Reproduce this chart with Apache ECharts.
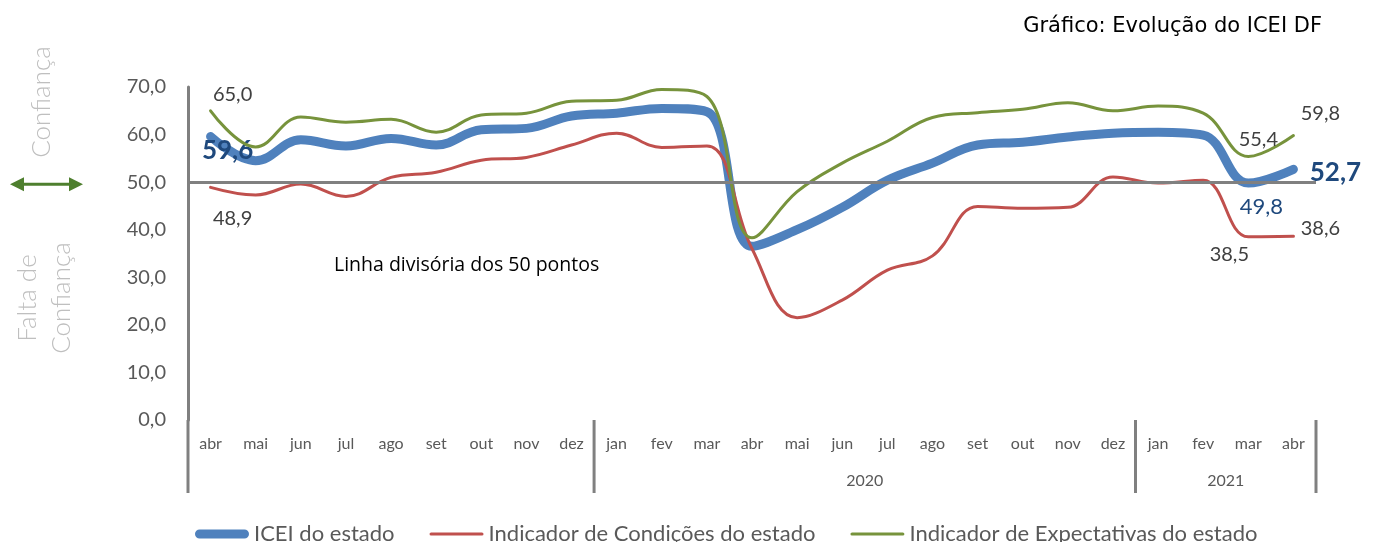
<!DOCTYPE html>
<html><head><meta charset="utf-8">
<script src="https://cdn.jsdelivr.net/npm/echarts@6/dist/echarts.min.js"></script>
<style>html,body{margin:0;padding:0;background:#fff}#c{width:1375px;height:542px}</style>
</head><body><div id="c"></div>
<script>
// ---- data ----
const months = ['abr','mai','jun','jul','ago','set','out','nov','dez',
                'jan','fev','mar','abr','mai','jun','jul','ago','set','out','nov','dez',
                'jan','fev','mar','abr'];
const yearLabels = ['', '2020', '2021'];
const yearStarts = [0, 9, 21];
const icei =         [59.6, 54.5, 58.9, 57.6, 59.2, 57.8, 61.0, 61.3, 63.9, 64.5, 65.5, 64.8, 36.5, 40.0, 44.7, 50.4, 54.0, 57.8, 58.4, 59.5, 60.3, 60.5, 59.9, 49.8, 52.7];
const condicoes =    [48.9, 47.3, 49.6, 47.0, 51.0, 52.1, 54.6, 55.2, 57.8, 60.3, 57.3, 57.6, 36.0, 21.5, 25.2, 31.5, 34.5, 44.9, 44.5, 44.7, 51.1, 49.8, 50.4, 38.5, 38.6];
const expectativas = [65.0, 57.4, 63.7, 62.6, 63.2, 60.5, 64.1, 64.5, 67.0, 67.2, 69.5, 68.0, 38.3, 48.0, 54.0, 58.6, 63.6, 64.6, 65.3, 66.7, 65.0, 66.0, 64.5, 55.4, 59.8];
const seriesNames = ['ICEI do estado', 'Indicador de Condições do estado', 'Indicador de Expectativas do estado'];
const dividerValue = 50;
const yMin = 0, yMax = 70, yInterval = 10;

// ---- styles ----
const FONT = 'Lato, "Open Sans", sans-serif';
const FONT2 = '"Open Sans", Lato, sans-serif';
const FONT3 = '"DejaVu Sans", "Open Sans", sans-serif';
const NAVY = '#1F497D';
const LBL = '#404040';
const AXIS_TXT = '#595959';
const GRAY = '#808080';
const COLORS = ['#4F81BD', '#C0504D', '#77933C'];
const fmt = v => v.toFixed(1).replace('.', ',');

const labelStyles = {
  icei: {0: {offset:[17,14], fontSize:26, fontWeight:'bold', color:NAVY},
         23:{offset:[13,24], fontSize:22, color:NAVY},
         24:{offset:[42,3], fontSize:26, fontWeight:'bold', color:NAVY}},
  cond: {0: {offset:[22,31], fontSize:20, color:LBL},
         23:{offset:[-19,18], fontSize:20, color:LBL},
         24:{offset:[27,-8], fontSize:20, color:LBL}},
  expc: {0: {offset:[22,-16], fontSize:20, color:LBL},
         23:{offset:[10,-17], fontSize:20, color:LBL},
         24:{offset:[27,-22], fontSize:20, color:LBL}}
};
function build(values, lbls){
  return values.map((v,i)=> lbls[i] ? {
    value: v, symbol:'circle', symbolSize:1, itemStyle:{color:'rgba(0,0,0,0)'},
    label: Object.assign({show:true, position:'inside', fontFamily:FONT, formatter: p=>fmt(p.value)}, lbls[i])
  } : v);
}
const thickIcon = 'path://M8.5,0 H91.5 A8.5,8.5 0 0 1 91.5,17 H8.5 A8.5,8.5 0 0 1 8.5,0 Z';
const thinIcon  = 'path://M3,0 H97 A3,3 0 0 1 97,6 H3 A3,3 0 0 1 3,0 Z';

const chart = echarts.init(document.getElementById('c'), null, {renderer:'canvas'});
const lineBase = {type:'line', symbol:'none', smooth:0.4, animation:false, silent:true};
chart.setOption({
  backgroundColor:'#fff',
  animation:false,
  textStyle:{fontFamily:FONT},
  title:{text:'Gráfico: Evolução do ICEI DF', right:48, top:11,
         textStyle:{fontFamily:FONT3, fontSize:21, fontWeight:'normal', color:'#000'}},
  grid:{left:188, right:59, top:87, bottom:122, containLabel:false},
  legend:{data:[{name:seriesNames[0], icon:thickIcon},{name:seriesNames[1], icon:thinIcon},{name:seriesNames[2], icon:thinIcon}],
          left:190, top:518, itemWidth:54, itemHeight:14, itemGap:35, symbolKeepAspect:true,
          textStyle:{fontFamily:FONT, fontSize:22, color:AXIS_TXT}},
  xAxis:{type:'category', data:months, boundaryGap:true,
         axisLine:{show:false}, axisTick:{show:false}, splitLine:{show:false},
         axisLabel:{interval:0, margin:16, fontSize:16, color:AXIS_TXT, fontFamily:FONT}},
  yAxis:{type:'value', min:yMin, max:yMax, interval:yInterval,
         axisLine:{show:true, lineStyle:{color:GRAY, width:3}}, axisTick:{show:false},
         splitLine:{show:false},
         axisLabel:{margin:22, fontSize:20, color:AXIS_TXT, fontFamily:FONT, formatter:v=>fmt(v)}},
  series:[
    {type:'line', name:'divider', data:[], z:1, silent:true,
     markLine:{symbol:'none', silent:true, label:{show:false}, animation:false,
               lineStyle:{color:GRAY, width:3, type:'solid'}, data:[{yAxis:dividerValue}]}},
    Object.assign({}, lineBase, {name:seriesNames[0], z:2, data:build(icei, labelStyles.icei),
      lineStyle:{color:COLORS[0], width:9, cap:'round', join:'round'}, itemStyle:{color:COLORS[0]}}),
    Object.assign({}, lineBase, {name:seriesNames[1], z:3, data:build(condicoes, labelStyles.cond),
      lineStyle:{color:COLORS[1], width:3, cap:'round', join:'round'}, itemStyle:{color:COLORS[1]}}),
    Object.assign({}, lineBase, {name:seriesNames[2], z:4, data:build(expectativas, labelStyles.expc),
      lineStyle:{color:COLORS[2], width:3, cap:'round', join:'round'}, itemStyle:{color:COLORS[2]}})
  ]
});

// ---- decorations computed from axes ----
const xs = months.map((_,i)=>chart.convertToPixel({xAxisIndex:0}, i));
const band = xs[1]-xs[0];
const y0 = chart.convertToPixel({yAxisIndex:0}, 0);
const y50 = chart.convertToPixel({yAxisIndex:0}, dividerValue);
const bounds = yearStarts.map(s=>xs[s]-band/2).concat([xs[xs.length-1]+band/2]);
const g = [];
bounds.forEach(b=>g.push({type:'line', shape:{x1:b,y1:y0,x2:b,y2:y0+73}, style:{stroke:GRAY, lineWidth:3}, silent:true}));
yearLabels.forEach((t,k)=>{
  if(!t) return;
  const a = xs[yearStarts[k]];
  const e = k+1<yearStarts.length ? xs[yearStarts[k+1]-1] : xs[xs.length-1];
  g.push({type:'text', x:(a+e)/2, y:y0+61, style:{text:t, fontFamily:FONT, fontSize:16, fill:AXIS_TXT, align:'center', verticalAlign:'middle'}, silent:true});
});
// divider caption
g.push({type:'text', x:334, y:265, style:{text:'Linha divisória dos 50 pontos', fontFamily:FONT2, fontSize:19.5, fill:'#000', align:'left', verticalAlign:'middle'}, silent:true});
// left side annotations
const sideStyle = {fontFamily:FONT, fontSize:26, fontWeight:300, fill:'#BFBFBF', align:'center', verticalAlign:'middle'};
g.push({type:'text', x:42, y:102, rotation:Math.PI/2, style:Object.assign({text:'Confiança'}, sideStyle), silent:true});
g.push({type:'text', x:28, y:298, rotation:Math.PI/2, style:Object.assign({text:'Falta de'}, sideStyle), silent:true});
g.push({type:'text', x:62, y:298, rotation:Math.PI/2, style:Object.assign({text:'Confiança'}, sideStyle), silent:true});
// green double arrow
const AR = '#4E7F2E';
g.push({type:'line', shape:{x1:20,y1:y50+2,x2:72,y2:y50+2}, style:{stroke:AR, lineWidth:3}, silent:true});
g.push({type:'polygon', shape:{points:[[10,y50+2],[24,y50-5],[24,y50+9]]}, style:{fill:AR}, silent:true});
g.push({type:'polygon', shape:{points:[[83,y50+2],[69,y50-5],[69,y50+9]]}, style:{fill:AR}, silent:true});
chart.setOption({graphic:{elements:g}});
</script></body></html>
